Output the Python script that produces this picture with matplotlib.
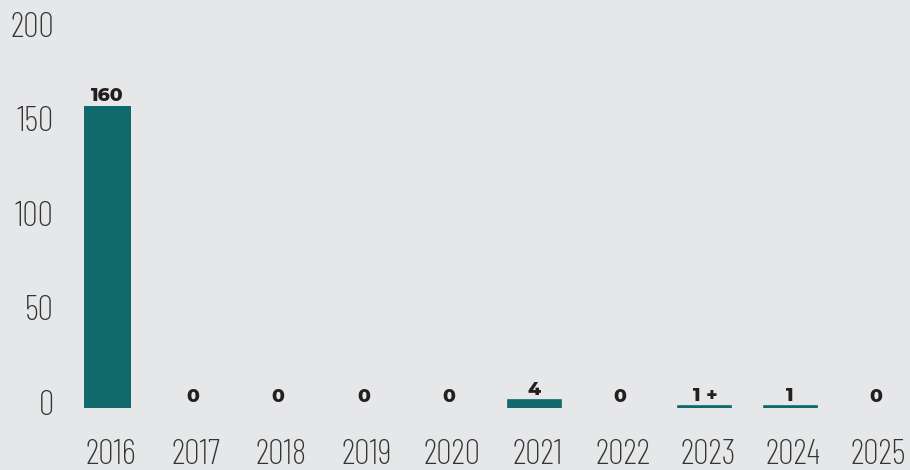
import matplotlib.pyplot as plt
from matplotlib.transforms import ScaledTranslation

# Données
annees = ["2016", "2017", "2018", "2019", "2020", "2021", "2022", "2023", "2024", "2025"]
valeurs = [160, 0, 0, 0, 0, 4, 0, 1, 1, 0]
etiquettes = ["160", "0", "0", "0", "0", "4", "0", "1 +", "1", "0"]
yticks = [0, 50, 100, 150, 200]

fond = "#e6e7e8"
sarcelle = "#10696a"

fig = plt.figure(figsize=(9.1, 4.7), dpi=100, facecolor=fond)
ax = fig.add_axes([0.07, 0.1319, 0.93, 0.803], facecolor=fond)

x = list(range(len(annees)))
# les petites barres sont un peu plus larges et soulignées
largeurs = [0.54 if v > 10 else 0.62 for v in valeurs]
traits = [1.2 if 0 < v <= 10 else 0 for v in valeurs]
ax.bar(x, valeurs, width=largeurs, color=sarcelle, edgecolor=sarcelle, linewidth=traits)

for xi, v, t in zip(x, valeurs, etiquettes):
    ax.annotate(t, (xi, v), xytext=(0, 4), textcoords="offset points",
                ha="center", va="baseline", fontsize=13.5, fontweight=800,
                family=["Montserrat Alternates", "DejaVu Sans"], color="#231f20")

ax.set_xlim(-0.513, 9.404)
ax.set_ylim(0, 200)
ax.set_xticks(x)
ax.set_xticklabels(annees)
ax.set_yticks(yticks)
ax.set_yticklabels([str(v) for v in yticks])
for spine in ax.spines.values():
    spine.set_visible(False)
ax.tick_params(length=0, labelsize=25, labelcolor="#333333")
ax.tick_params(axis="x", pad=22)
ax.tick_params(axis="y", pad=7)
for lab in ax.get_xticklabels():
    lab.set_family(["Barlow Condensed", "DejaVu Sans"])
    lab.set_fontweight(275)
    lab.set_transform(lab.get_transform() + ScaledTranslation(0.03, 0, fig.dpi_scale_trans))
for lab in ax.get_yticklabels():
    lab.set_family(["Barlow Condensed", "DejaVu Sans"])
    lab.set_fontweight(275)
    lab.set_transform(lab.get_transform() + ScaledTranslation(0, 0.06, fig.dpi_scale_trans))

fig.savefig("out.png", dpi=100, facecolor=fond)
